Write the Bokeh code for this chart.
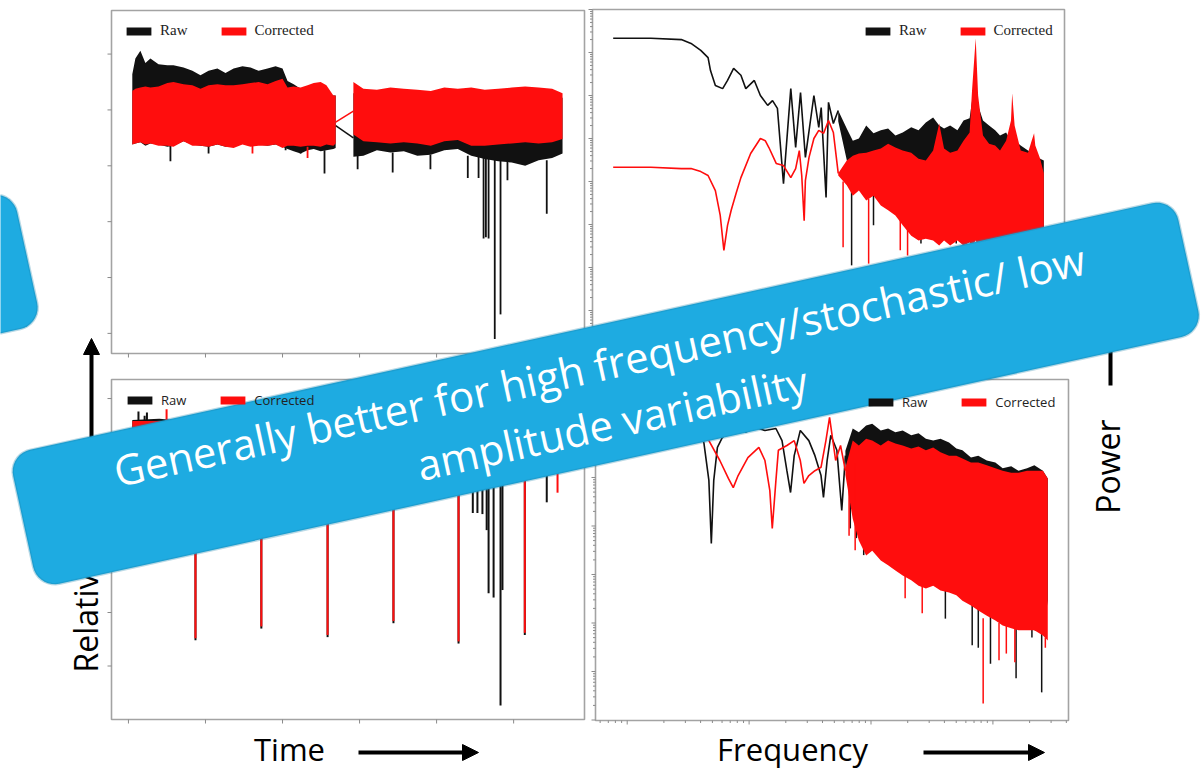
import numpy as np
from bokeh.plotting import figure
from bokeh.models import (Range1d, Legend, LegendItem, Label, Arrow, NormalHead,
                          PolyAnnotation)
from bokeh.embed import file_html
from bokeh.resources import INLINE

# ---------------------------------------------------------------- data
# Time panels: time in days, relative flux in ppt
time_ticks = [0, 20, 40, 60, 80, 100]
tl_flux_ticks = [10, 5, 0, -5, -10, -15]
bl_flux_ticks = [5, 0, -5, -10, -15, -20]

# top-left light curve, first segment (dense noise summarised by its envelope)
tl_t1 = [1.0, 1.8, 3.1, 4.4, 5.7, 7.8, 10.1, 11.7, 14.3, 16.6, 18.7, 20.8, 23.1, 25.2, 27.3,
         29.6, 31.7, 33.8, 36.1, 38.2, 40.0, 41.3, 42.9, 44.7, 46.5, 48.1, 49.9, 51.4, 53.2, 53.8]
tl_raw_hi1 = [8.2, 9.6, 10.3, 9.2, 9.6, 9.1, 9.0, 9.0, 8.8, 8.5, 8.1, 8.5, 8.7, 8.3, 8.7,
              8.9, 8.8, 8.5, 8.7, 8.9, 8.7, 7.6, 7.3, 6.9, 6.7, 6.5, 6.5, 6.4, 6.3, 6.3]
tl_raw_lo1 = [1.9, 2.0, 2.1, 1.8, 2.0, 1.9, 1.7, 1.8, 2.2, 1.9, 1.8, 1.7, 1.9, 1.7, 1.8,
              2.0, 1.9, 1.9, 1.8, 1.9, 1.7, 1.5, 1.3, 1.1, 1.4, 1.5, 1.3, 1.4, 1.5, 1.6]
tl_cor_hi1 = [6.7, 6.9, 7.0, 7.1, 7.0, 7.1, 7.4, 7.5, 7.3, 7.2, 6.9, 7.2, 7.3, 7.2, 7.2,
              7.3, 7.4, 7.5, 7.3, 7.6, 7.8, 7.0, 7.1, 7.0, 7.2, 7.4, 7.5, 7.2, 6.3, 6.3]
tl_cor_lo1 = [1.9, 2.0, 2.1, 1.9, 2.0, 1.8, 1.8, 1.7, 2.2, 1.8, 1.8, 1.7, 1.9, 1.7, 1.6,
              1.9, 1.7, 1.8, 1.8, 1.9, 1.6, 1.8, 1.8, 1.7, 1.8, 1.8, 1.7, 1.9, 1.8, 2.0]
# second segment
tl_t2 = [58.4, 61.0, 64.5, 68.0, 71.5, 75.0, 78.5, 82.0, 85.5, 89.0, 92.5, 96.0, 99.5,
         103.0, 106.5, 110.0, 112.7]
tl_raw_hi2 = [6.5, 6.4, 6.5, 6.6, 6.7, 6.6, 6.3, 6.6, 6.4, 6.5, 6.2, 6.3, 6.2, 6.3, 6.4, 6.2, 6.1]
tl_raw_lo2 = [0.8, 0.9, 1.4, 1.2, 1.3, 0.9, 1.0, 1.4, 1.5, 0.9, 0.6, 0.4, 0.3, 0.0, 0.5, 0.7, 1.1]
tl_cor_hi2 = [7.5, 6.9, 6.8, 7.0, 6.9, 6.8, 6.7, 7.0, 6.9, 7.0, 6.8, 6.9, 7.0, 7.1, 7.0, 6.9, 6.5]
tl_cor_lo2 = [2.8, 2.2, 2.1, 2.0, 2.1, 2.0, 1.8, 2.2, 2.3, 1.8, 1.8, 1.9, 2.0, 2.1, 2.0, 2.1, 2.4]
# data gap bridged by a straight line
tl_gap_t = [53.8, 58.4]
tl_raw_gap = [3.6, 2.5]
tl_cor_gap = [3.9, 4.9]
# isolated outliers
tl_raw_spike_t = [10.9, 20.8, 40.8, 44.7, 50.9, 59.5, 68.6, 78.4, 88.1, 90.9, 92.2, 92.8, 93.5,
                  95.1, 96.6, 98.4, 108.6]
tl_raw_spike_top = [1.8, 1.8, 1.7, 1.3, 1.4, 0.9, 1.2, 1.0, 0.9, 0.9, 0.8, 0.8, 0.8, 0.6, 0.5, 0.5, 0.5]
tl_raw_spike_bot = [0.4, 1.1, 1.4, 1.1, -0.7, -0.3, -0.6, -0.3, -1.1, -1.1, -6.5, -6.4, -6.5,
                    -15.5, -13.3, -1.3, -4.3]
tl_cor_spike_t = [32.2, 46.5]
tl_cor_spike_top = [1.8, 1.7]
tl_cor_spike_bot = [1.1, 0.7]

# bottom-left light curve (transits)
bl_t = [1, 8, 15, 22, 30, 38, 46, 54, 62, 70, 78, 86, 94, 102, 110, 112.7]
bl_raw_hi = [3.0, 3.1, 2.9, 3.0, 2.9, 3.0, 3.1, 3.0, 2.9, 3.0, 3.1, 3.0, 2.9, 3.0, 3.1, 2.9]
bl_raw_lo = [2.2, 2.1, 2.3, 2.2, 2.1, 2.2, 2.3, 2.2, 2.1, 2.2, 2.2, 2.1, 2.0, 2.2, 2.1, 2.2]
bl_cor_hi = [2.9, 2.9, 2.8, 2.9, 2.8, 2.9, 2.8, 2.9, 2.8, 2.9, 2.8, 2.9, 2.8, 2.9, 2.8, 2.9]
bl_cor_lo = [2.3, 2.3, 2.4, 2.3, 2.3, 2.4, 2.3, 2.3, 2.4, 2.3, 2.3, 2.4, 2.3, 2.3, 2.4, 2.3]
# single-cadence excursions: start and end value of each
bl_raw_spike_t = [2.6, 4.2, 4.8, 17.4, 34.5, 51.7, 68.8, 85.7, 102.9, 89.4, 90.6, 91.9, 93.0,
                  93.5, 94.8, 96.6, 97.1, 108.6]
bl_raw_spike_from = [2.4, 2.4, 2.4, 2.2, 2.2, 2.2, 2.2, 2.2, 2.2, 2.2, 2.2, 2.2, 2.2, 2.2, 2.2,
                     2.2, 2.2, 2.2]
bl_raw_spike_to = [3.8, 3.4, 3.7, -17.6, -16.5, -17.3, -16.0, -17.9, -17.1, -5.7, -5.7, -5.8,
                   -7.3, -13.2, -13.6, -23.7, -12.9, -4.7]
bl_cor_spike_t = [9.9, 17.4, 34.5, 51.7, 68.8, 85.7, 102.9, 111.4]
bl_cor_spike_from = [2.5, 2.3, 2.3, 2.3, 2.3, 2.3, 2.3, 2.3]
bl_cor_spike_to = [4.0, -17.4, -16.3, -17.1, -15.8, -17.7, -16.9, -3.8]

# Frequency panels: log10 frequency, log10 power
freq_decades = [-2, -1, 0, 1]
minor_mult = [2, 3, 4, 5, 6, 7, 8, 9]
tr_power_decades = [-6, -5, -4, -3, -2, -1, 0, 1, 2]
br_power_decades = [-5, -4, -3, -2, -1, 0, 1, 2]

tr_raw_lf_f = [-2.12, -1.81, -1.56, -1.48, -1.40, -1.34, -1.32, -1.28, -1.22, -1.18, -1.13,
               -1.07, -1.03, -0.96, -0.91, -0.85, -0.81, -0.77, -0.72, -0.66, -0.62, -0.58,
               -0.54, -0.47, -0.43, -0.41, -0.37, -0.35, -0.31, -0.27]
tr_raw_lf_p = [1.33, 1.33, 1.30, 1.21, 1.05, 0.88, 0.58, 0.23, 0.16, 0.35, 0.63, 0.47, 0.16,
               0.35, 0.00, -0.23, -0.12, -0.30, -2.05, 0.16, -1.21, 0.07, -1.44, 0.00, -0.74,
               -0.28, -2.37, -0.16, -0.65, -0.35]
tr_cor_lf_f = [-2.12, -1.81, -1.56, -1.48, -1.40, -1.34, -1.28, -1.24, -1.21, -1.18, -1.15,
               -1.11, -1.07, -0.99, -0.91, -0.87, -0.84, -0.78, -0.72, -0.66, -0.62, -0.59,
               -0.57, -0.55, -0.54, -0.51, -0.47, -0.43, -0.39, -0.35, -0.31, -0.27]
tr_cor_lf_p = [-1.67, -1.67, -1.70, -1.70, -1.77, -1.86, -2.21, -2.79, -3.60, -3.02, -2.67,
               -2.28, -1.91, -1.35, -1.00, -1.05, -1.21, -1.58, -1.63, -1.91, -1.70, -1.28,
               -1.86, -2.91, -1.98, -1.44, -1.00, -0.81, -0.88, -0.58, -0.86, -1.81]
tr_hf_f = [-0.27, -0.20, -0.15, -0.10, -0.04, 0.02, 0.08, 0.14, 0.20, 0.26, 0.33, 0.39, 0.45,
           0.51, 0.56, 0.60, 0.65, 0.71, 0.76, 0.81, 0.83, 0.86, 0.88, 0.92, 0.97, 1.02, 1.06,
           1.11, 1.15, 1.16, 1.18, 1.23, 1.29, 1.32, 1.34, 1.35, 1.39, 1.42]
tr_raw_hf_hi = [-0.35, -0.77, -1.05, -1.00, -0.70, -0.88, -0.81, -0.77, -0.93, -0.86, -0.74,
                -0.81, -0.63, -0.51, -0.70, -0.77, -0.70, -0.81, -0.58, -0.53, -0.12, 0.35,
                -0.23, -0.58, -0.70, -0.81, -0.93, -0.86, -1.05, -1.00, -1.05, -1.16, -1.28,
                -1.33, -1.28, -1.40, -1.47, -1.51]
tr_raw_hf_lo = [-0.60, -1.50, -2.09, -1.98, -1.93, -2.21, -2.09, -2.33, -2.44, -2.56, -2.79,
                -2.67, -2.79, -2.67, -2.91, -2.79, -2.91, -3.02, -2.91, -3.02, -2.91, -2.79,
                -2.91, -3.02, -3.02, -3.14, -3.02, -3.14, -3.09, -3.19, -3.14, -3.26, -3.19,
                -3.26, -3.21, -3.28, -3.33, -3.33]
tr_cor_hf_hi = [-1.81, -1.51, -1.40, -1.35, -1.33, -1.28, -1.23, -1.12, -1.21, -1.28, -1.33,
                -1.47, -1.51, -1.28, -0.65, -1.23, -1.33, -1.28, -1.05, -0.86, 0.12, 1.33,
                0.00, -0.93, -1.12, -1.16, -1.28, -1.05, -0.58, 0.05, -0.70, -1.28, -1.33,
                -1.05, -0.88, -1.16, -1.47, -1.81]
tr_cor_hf_lo = [-1.86, -2.09, -2.33, -2.21, -2.44, -2.33, -2.56, -2.67, -2.79, -3.02, -3.26,
                -3.37, -3.33, -3.37, -3.49, -3.37, -3.49, -3.37, -3.49, -3.42, -3.49, -3.37,
                -3.49, -3.42, -3.49, -3.56, -3.49, -3.60, -3.56, -3.60, -3.56, -3.60, -3.65,
                -3.60, -3.65, -3.60, -3.65, -3.65]
tr_raw_dip_f = [-0.16, 0.02, 0.41, 0.70, 0.94]
tr_raw_dip_top = [-2.05, -2.20, -2.70, -2.95, -3.00]
tr_raw_dip_bot = [-3.95, -3.02, -3.44, -3.44, -3.26]
tr_cor_dip_f = [-0.23, -0.02, 0.24, 0.30]
tr_cor_dip_top = [-2.00, -2.40, -2.90, -3.00]
tr_cor_dip_bot = [-3.53, -3.91, -3.60, -3.72]

br_raw_lf_f = [-2.12, -1.73, -1.52, -1.42, -1.37, -1.33, -1.31, -1.29, -1.26, -1.22, -1.11,
               -1.03, -0.95, -0.87, -0.78, -0.73, -0.69, -0.66, -0.63, -0.58, -0.51, -0.46,
               -0.41, -0.39, -0.36, -0.33, -0.28, -0.24, -0.21]
br_raw_lf_p = [1.69, 1.67, 1.59, 1.18, 0.70, -0.06, -1.36, -0.06, 0.62, 0.82, 1.07, 0.93, 1.03,
               0.97, 1.01, 0.76, 0.14, -0.31, 0.45, 0.97, 0.76, 0.45, 0.04, -0.41, 0.35, 0.87,
               0.56, -0.68, 0.45]
br_cor_lf_f = [-2.12, -1.73, -1.48, -1.40, -1.33, -1.24, -1.17, -1.13, -1.09, -1.01, -0.92,
               -0.87, -0.83, -0.81, -0.78, -0.76, -0.69, -0.63, -0.58, -0.55, -0.51, -0.46,
               -0.41, -0.37, -0.34, -0.29, -0.25, -0.21]
br_cor_lf_p = [1.38, 1.36, 1.28, 1.07, 0.76, 0.35, -0.02, -0.21, 0.04, 0.41, 0.62, 0.35, -0.27,
               -1.05, -0.06, 0.56, 0.66, 0.76, 0.35, -0.12, 0.04, 0.14, 0.21, 0.76, 1.24, 0.35,
               0.66, 0.14]
br_hf_f = [-0.21, -0.15, -0.10, -0.04, 0.01, 0.08, 0.14, 0.20, 0.26, 0.33, 0.39, 0.45, 0.51,
           0.57, 0.64, 0.70, 0.75, 0.82, 0.88, 0.95, 1.02, 1.08, 1.15, 1.21, 1.28, 1.34, 1.41, 1.45]
br_raw_hf_hi = [0.55, 1.01, 0.93, 1.07, 1.11, 0.97, 1.01, 0.93, 0.97, 0.87, 0.91, 0.80, 0.76,
                0.80, 0.72, 0.60, 0.56, 0.41, 0.45, 0.35, 0.31, 0.19, 0.23, 0.14, 0.19, 0.25,
                0.14, -0.02]
br_raw_hf_lo = [0.35, -0.55, -0.99, -1.30, -1.40, -1.09, -1.30, -1.51, -1.40, -1.71, -1.81,
                -1.71, -1.92, -2.02, -2.12, -2.23, -2.33, -2.54, -2.64, -2.74, -2.85, -2.95,
                -2.95, -3.05, -3.05, -3.15, -3.20, -2.54]
br_cor_hf_hi = [0.20, 0.76, 0.66, 0.80, 0.76, 0.66, 0.76, 0.70, 0.66, 0.60, 0.64, 0.56, 0.62,
                0.52, 0.45, 0.45, 0.39, 0.31, 0.31, 0.25, 0.19, 0.14, 0.10, 0.10, 0.14, 0.14,
                0.14, -0.02]
br_cor_hf_lo = [0.05, -0.85, -1.30, -1.61, -1.51, -1.71, -1.81, -1.92, -2.02, -2.12, -2.23,
                -2.29, -2.23, -2.33, -2.37, -2.43, -2.54, -2.64, -2.74, -2.85, -2.95, -3.05,
                -3.11, -3.15, -3.15, -3.15, -3.26, -3.36]
br_raw_dip_f = [-0.17, -0.12, -0.06, 0.61, 0.83, 0.88, 0.98, 1.19, 1.32, 1.40]
br_raw_dip_top = [0.6, 0.5, 0.4, -2.10, -2.60, -2.70, -2.85, -3.05, -3.10, -3.20]
br_raw_dip_bot = [-1.05, -1.25, -1.60, -2.91, -3.46, -3.51, -3.84, -4.14, -3.30, -4.43]
br_cor_dip_f = [-0.18, -0.13, 0.28, 0.42, 0.92, 1.05, 1.11, 1.18, 1.43]
br_cor_dip_top = [0.4, 0.3, -2.00, -2.20, -2.90, -3.00, -3.05, -3.10, -3.30]
br_cor_dip_bot = [-1.20, -1.50, -2.49, -2.80, -4.66, -3.77, -3.63, -3.81, -3.51]

banner_lines = ["Generally better for high frequency/stochastic/ low", "amplitude variability"]

# ---------------------------------------------------------------- styles
BLACK = "#111111"
RED = "#ff0d0d"
FRAME = "#a3a3a3"
TICK = "#8a8a8a"
BLUE = "#1eabe1"
BLUE_EDGE = "#1a80aa"
W, H = 1204, 771

p = figure(width=W, height=H, x_range=Range1d(0, W), y_range=Range1d(0, H),
           output_backend="svg", toolbar_location=None, min_border=0,
           x_axis_location=None, y_axis_location=None, outline_line_color=None,
           background_fill_color="white", border_fill_color="white")
p.grid.visible = False


def make_panel(xs, ys, xt, yt, xmaj, ymaj, xminor=None, yminor=None):
    sub = p.subplot(x_source=Range1d(*xs), y_source=Range1d(*ys),
                    x_target=Range1d(*xt), y_target=Range1d(*yt))
    sub.quad(left=[xs[0]], right=[xs[1]], bottom=[ys[0]], top=[ys[1]],
             fill_alpha=0, line_color=FRAME, line_width=1.6)
    sub.ray(x=xmaj, y=[ys[0]] * len(xmaj), length=4, length_units="screen",
            angle=-np.pi / 2, line_color=TICK, line_width=1)
    sub.ray(x=[xs[0]] * len(ymaj), y=ymaj, length=4, length_units="screen",
            angle=np.pi, line_color=TICK, line_width=1)
    if xminor:
        sub.ray(x=xminor, y=[ys[0]] * len(xminor), length=2.5, length_units="screen",
                angle=-np.pi / 2, line_color=TICK, line_width=1)
    if yminor:
        sub.ray(x=[xs[0]] * len(yminor), y=yminor, length=2.5, length_units="screen",
                angle=np.pi, line_color=TICK, line_width=1)
    return sub


def log_minors(decades, lo, hi):
    out = []
    for d in decades + [decades[0] - 1]:
        for m in minor_mult:
            v = d + np.log10(m)
            if lo < v < hi:
                out.append(float(v))
    return out


# ---------------- top-left: light curve
tl_xs, tl_ys = (-4.4, 118.4), (-16.8, 13.9)
tl = make_panel(tl_xs, tl_ys, (111, 584), (418, 761), time_ticks, tl_flux_ticks)
tl_r_raw = tl.varea(x=tl_t1, y1=tl_raw_lo1, y2=tl_raw_hi1, fill_color=BLACK)
tl.varea(x=tl_t2, y1=tl_raw_lo2, y2=tl_raw_hi2, fill_color=BLACK)
tl.line(x=tl_gap_t, y=tl_raw_gap, line_color=BLACK, line_width=1.5)
tl.segment(x0=tl_raw_spike_t, y0=tl_raw_spike_top, x1=tl_raw_spike_t, y1=tl_raw_spike_bot,
           line_color=BLACK, line_width=1.8)
tl_r_cor = tl.varea(x=tl_t1, y1=tl_cor_lo1, y2=tl_cor_hi1, fill_color=RED)
tl.varea(x=tl_t2, y1=tl_cor_lo2, y2=tl_cor_hi2, fill_color=RED)
tl.line(x=tl_gap_t, y=tl_cor_gap, line_color=RED, line_width=1.5)
tl.segment(x0=tl_cor_spike_t, y0=tl_cor_spike_top, x1=tl_cor_spike_t, y1=tl_cor_spike_bot,
           line_color=RED, line_width=1.8)

# ---------------- bottom-left: light curve with transits
bl_xs, bl_ys = (-4.4, 118.4), (-25.0, 6.78)
bl = make_panel(bl_xs, bl_ys, (111, 584), (52, 392), time_ticks, bl_flux_ticks)
bl_r_raw = bl.varea(x=bl_t, y1=bl_raw_lo, y2=bl_raw_hi, fill_color=BLACK)
bl.segment(x0=bl_raw_spike_t, y0=bl_raw_spike_from, x1=bl_raw_spike_t, y1=bl_raw_spike_to,
           line_color=BLACK, line_width=2)
bl_r_cor = bl.varea(x=bl_t, y1=bl_cor_lo, y2=bl_cor_hi, fill_color=RED)
bl.segment(x0=bl_cor_spike_t, y0=bl_cor_spike_from, x1=bl_cor_spike_t, y1=bl_cor_spike_to,
           line_color=RED, line_width=2)

# ---------------- top-right: power spectrum
tr_xs, tr_ys = (-2.29, 1.59), (-6.0, 2.0)
tr = make_panel(tr_xs, tr_ys, (592, 1064), (418, 762), freq_decades, tr_power_decades,
                log_minors(freq_decades, *tr_xs), log_minors(tr_power_decades, *tr_ys))
tr.line(x=tr_raw_lf_f, y=tr_raw_lf_p, line_color=BLACK, line_width=1.6)
tr_r_raw = tr.varea(x=tr_hf_f, y1=tr_raw_hf_lo, y2=tr_raw_hf_hi, fill_color=BLACK)
tr.segment(x0=tr_raw_dip_f, y0=tr_raw_dip_top, x1=tr_raw_dip_f, y1=tr_raw_dip_bot,
           line_color=BLACK, line_width=1.5)
tr.line(x=tr_cor_lf_f, y=tr_cor_lf_p, line_color=RED, line_width=1.6)
tr_r_cor = tr.varea(x=tr_hf_f, y1=tr_cor_hf_lo, y2=tr_cor_hf_hi, fill_color=RED)
tr.segment(x0=tr_cor_dip_f, y0=tr_cor_dip_top, x1=tr_cor_dip_f, y1=tr_cor_dip_bot,
           line_color=RED, line_width=1.5)

# ---------------- bottom-right: power spectrum
br_xs, br_ys = (-2.26, 1.62), (-5.01, 2.02)
br = make_panel(br_xs, br_ys, (595, 1068), (51, 392), freq_decades, br_power_decades,
                log_minors(freq_decades, *br_xs), log_minors(br_power_decades, *br_ys))
br.line(x=br_raw_lf_f, y=br_raw_lf_p, line_color=BLACK, line_width=1.6)
br_r_raw = br.varea(x=br_hf_f, y1=br_raw_hf_lo, y2=br_raw_hf_hi, fill_color=BLACK)
br.segment(x0=br_raw_dip_f, y0=br_raw_dip_top, x1=br_raw_dip_f, y1=br_raw_dip_bot,
           line_color=BLACK, line_width=1.5)
br.line(x=br_cor_lf_f, y=br_cor_lf_p, line_color=RED, line_width=1.6)
br_r_cor = br.varea(x=br_hf_f, y1=br_cor_hf_lo, y2=br_cor_hf_hi, fill_color=RED)
br.segment(x0=br_cor_dip_f, y0=br_cor_dip_top, x1=br_cor_dip_f, y1=br_cor_dip_bot,
           line_color=RED, line_width=1.5)


# ---------------- legends
def add_legend(r_raw, r_cor, loc, font, size, spacing):
    leg = Legend(items=[LegendItem(label="Raw", renderers=[r_raw]),
                        LegendItem(label="Corrected", renderers=[r_cor])],
                 location=loc, orientation="horizontal", glyph_width=31, glyph_height=10,
                 label_standoff=6, spacing=spacing, padding=0, margin=0,
                 label_height=10, border_line_alpha=0, background_fill_alpha=0,
                 label_text_font=font, label_text_font_size=size, label_text_color="#222222")
    p.add_layout(leg)


add_legend(tl_r_raw, tl_r_cor, (123, 732), "Liberation Serif", "15px", 30)
add_legend(tr_r_raw, tr_r_cor, (862, 732), "Liberation Serif", "15px", 30)
add_legend(bl_r_raw, bl_r_cor, (124, 362), "Open Sans", "13px", 31)
add_legend(br_r_raw, br_r_cor, (865, 360), "Open Sans", "13px", 31)

# ---------------- slide axis labels and arrows
for txt, x, y, ang, align, size in [("Time", 289, 23, 0, "center", "31px"),
                                    ("Frequency", 792, 23, 0, "center", "31px"),
                                    ("Power", 1107, 305, np.pi / 2, "center", "32px"),
                                    ("Relative Flux", 85, 99, np.pi / 2, "left", "32px")]:
    p.add_layout(Label(x=x, y=y, text=txt, angle=ang, text_align=align,
                       text_baseline="middle", text_font="Open Sans",
                       text_font_size=size, text_color="black"))

for x0, y0, x1, y1 in [(358, 19, 478, 19), (923, 19, 1044, 19),
                       (1110, 386, 1110, 501), (91, 331, 91, 433)]:
    p.add_layout(Arrow(end=NormalHead(size=16, fill_color="black", line_color="black"),
                       x_start=x0, y_start=y0, x_end=x1, y_end=y1,
                       line_width=4, line_color="black"))


# ---------------- callout banners (drawn on top)
def rounded_rect(cx, cy, w, h, r, ang, n=10):
    pts = []
    hw, hh = w / 2 - r, h / 2 - r
    for ox, oy, a0 in [(hw, hh, 0), (-hw, hh, 90), (-hw, -hh, 180), (hw, -hh, 270)]:
        for t in np.linspace(a0, a0 + 90, n):
            pts.append((ox + r * np.cos(np.radians(t)), oy + r * np.sin(np.radians(t))))
    ca, sa = np.cos(ang), np.sin(ang)
    return ([float(cx + x * ca - y * sa) for x, y in pts],
            [float(cy + x * sa + y * ca) for x, y in pts])


ANG = np.radians(12.4)
for cx, cy, w, h in [(-217.5, 460.4, 500, 137), (605.25, 378.1, 1193, 137)]:
    xs, ys = rounded_rect(cx, cy, w, h, 22, ANG)
    p.add_layout(PolyAnnotation(xs=xs, ys=ys, fill_color=BLUE, fill_alpha=1,
                                line_color=BLUE_EDGE, line_width=2.5, level="overlay"))

bcx, bcy = 605.25, 378.1
for k, txt in zip([1, -1], banner_lines):
    lx = bcx - k * 29.5 * np.sin(ANG)
    ly = bcy + k * 29.5 * np.cos(ANG)
    p.add_layout(Label(x=float(lx), y=float(ly), text=txt, angle=float(ANG),
                       text_align="center", text_baseline="middle", text_font="Open Sans",
                       text_font_size="42px", text_color="white", level="overlay"))

open("out.html", "w").write(file_html(p, INLINE))
